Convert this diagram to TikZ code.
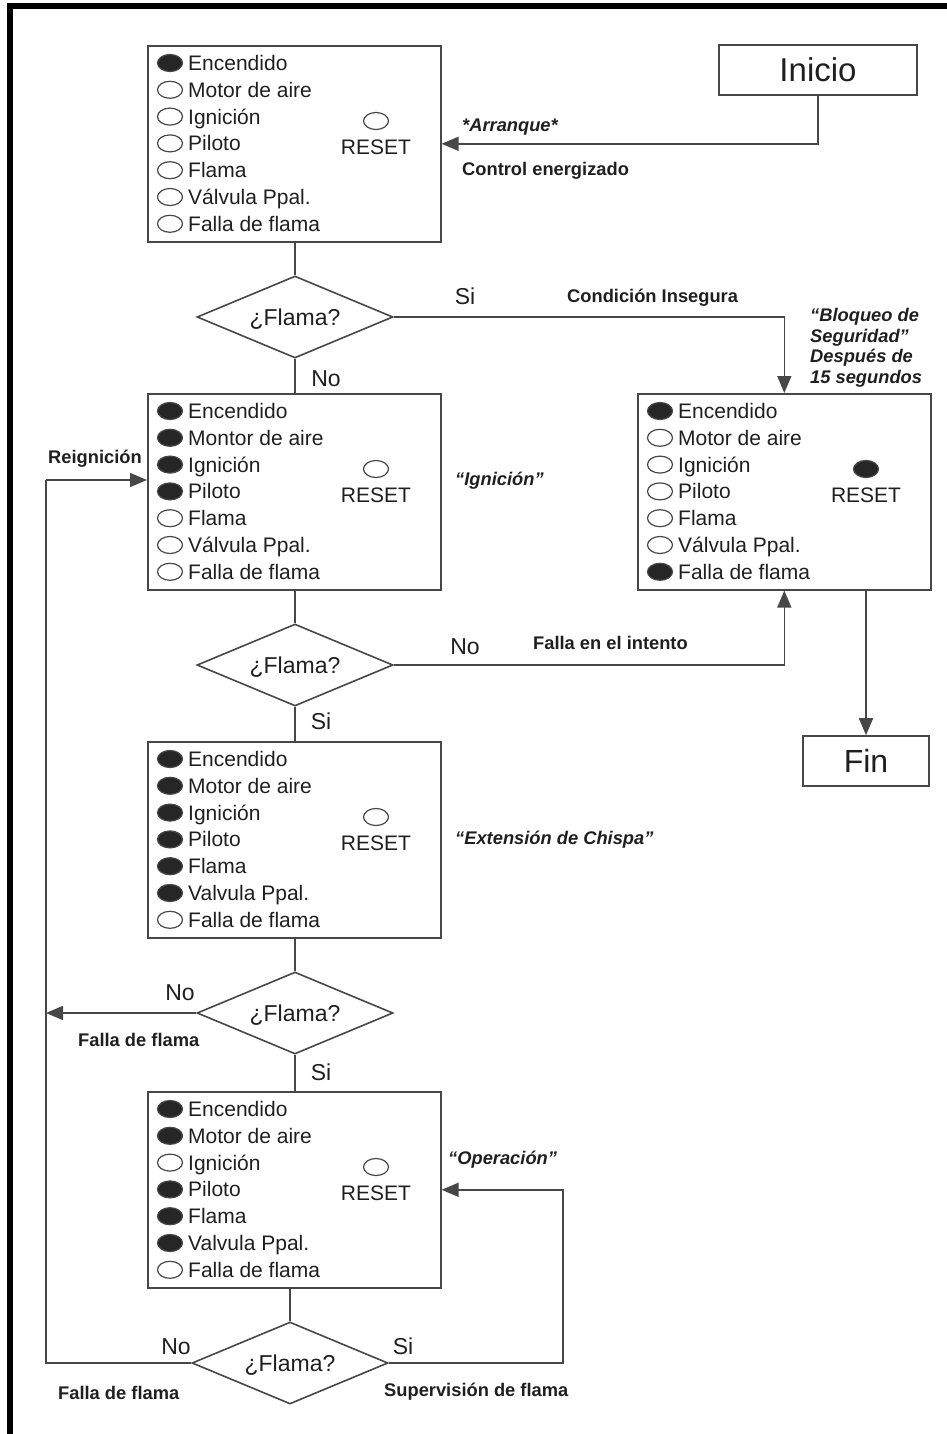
\documentclass[tikz,border=0pt]{standalone}
\usepackage{fontspec}
\setmainfont{Liberation Sans}
\usetikzlibrary{shapes.geometric,arrows.meta}
\colorlet{lampon}{black!85}
\colorlet{lampoff}{white}
\colorlet{ln}{black!72}
\colorlet{tx}{black!88}
\tikzset{
 panel/.style={draw=ln, line width=1.6pt, rectangle, minimum width=293pt, minimum height=196pt, inner sep=0pt, anchor=north west},
 lamp/.style={draw=ln, line width=1.2pt, ellipse, minimum width=25pt, minimum height=17pt, inner sep=0pt},
 rowtxt/.style={font=\fontsize{21}{25}\selectfont, text=tx, anchor=west, inner sep=0pt, text height=15pt, text depth=0pt},
 dia/.style={draw=ln, line width=1.6pt, diamond, aspect=2.4, minimum width=196pt, minimum height=82pt, inner sep=0pt, font=\fontsize{23}{27}\selectfont, text=tx, text height=16.5pt, text depth=0pt},
 yn/.style={font=\fontsize{23}{27}\selectfont, text=tx, inner sep=0pt, text height=16.5pt, text depth=0pt},
 note/.style={font=\fontsize{18.3}{22}\selectfont\bfseries, text=tx, inner sep=0pt, anchor=west, text height=13.1pt, text depth=0pt},
 notei/.style={note, font=\fontsize{18.3}{22}\selectfont\bfseries\itshape},
 term/.style={draw=ln, line width=1.6pt, rectangle, inner sep=0pt, text=tx, text depth=0pt},
 conn/.style={draw=ln, line width=1.6pt},
 arr/.style={conn, -{Triangle[length=17pt,width=14pt]}},
}
\newcommand\panelbox[5]{%
 \node[panel] (#1) at (#2,#3) {};
 \foreach \c/\t [count=\i] in {#5}{
   \node[lamp, fill=\c] (#1-l\i) at ({#2+23},{#3+18+26.8*(\i-1)}) {};
   \node[rowtxt] (#1-t\i) at ({#2+41},{#3+18+26.8*(\i-1)}) {\t};
 }
 \node[lamp, fill=#4] (#1-r) at ({#2+229},{#3+76}) {};
 \node[rowtxt, anchor=center] (#1-rt) at ({#2+229},{#3+102}) {RESET};
}
\begin{document}
\begin{tikzpicture}[x=1pt, y=-1pt]
\useasboundingbox (0,0) rectangle (947,1434);
\fill[black] (7,3) rectangle (947,9);
\fill[black] (7,3) rectangle (13,1434);

\panelbox{b1}{147}{45}{lampoff}{lampon/Encendido, lampoff/Motor de aire, lampoff/Ignición, lampoff/Piloto, lampoff/Flama, lampoff/Válvula Ppal., lampoff/Falla de flama}
\panelbox{b2}{147}{393}{lampoff}{lampon/Encendido, lampon/Montor de aire, lampon/Ignición, lampon/Piloto, lampoff/Flama, lampoff/Válvula Ppal., lampoff/Falla de flama}
\panelbox{b4}{637}{393}{lampon}{lampon/Encendido, lampoff/Motor de aire, lampoff/Ignición, lampoff/Piloto, lampoff/Flama, lampoff/Válvula Ppal., lampon/Falla de flama}
\panelbox{b3}{147}{741}{lampoff}{lampon/Encendido, lampon/Motor de aire, lampon/Ignición, lampon/Piloto, lampon/Flama, lampon/Valvula Ppal., lampoff/Falla de flama}
\panelbox{b5}{147}{1091}{lampoff}{lampon/Encendido, lampon/Motor de aire, lampoff/Ignición, lampon/Piloto, lampon/Flama, lampon/Valvula Ppal., lampoff/Falla de flama}

\node[term, minimum width=198pt, minimum height=50pt, font=\fontsize{33}{38}\selectfont, text height=23.6pt] (ini) at (818,70) {Inicio};
\node[term, minimum width=126pt, minimum height=50pt, font=\fontsize{32}{37}\selectfont, text height=23pt] (fin) at (866,761) {Fin};

\node[dia] (d1) at (295,317) {¿Flama?};
\node[dia] (d2) at (295,665) {¿Flama?};
\node[dia] (d3) at (295,1013) {¿Flama?};
\node[dia] (d4) at (290,1363) {¿Flama?};

% labels
\node[notei] (arranque) at (462,125) {*Arranque*};
\node[note] (control) at (462,169) {Control energizado};
\node[yn] (si1) at (465,296) {Si};
\node[note] (insegura) at (567,296) {Condición Insegura};
\node[font=\fontsize{18.3}{20.7}\selectfont\bfseries\itshape, text=tx, inner sep=0pt, align=left, anchor=north west] (bloqueo) at (810,308) {“Bloqueo de\\Seguridad”\\Después de\\15 segundos};
\node[yn] (no1) at (326,378) {No};
\node[note] (reign) at (48,457) {Reignición};
\node[notei] (ignic) at (455,479) {“Ignición”};
\node[yn] (no2) at (465,646) {No};
\node[note] (intento) at (533,643) {Falla en el intento};
\node[yn] (si2) at (321,721) {Si};
\node[notei] (chispa) at (455,838) {“Extensión de Chispa”};
\node[yn] (no3) at (180,992) {No};
\node[note] (falla3) at (78,1040) {Falla de flama};
\node[yn] (si3) at (321,1072) {Si};
\node[notei] (oper) at (448,1158) {“Operación”};
\node[yn] (no4) at (176,1346) {No};
\node[yn] (si4) at (403,1346) {Si};
\node[note] (falla4) at (58,1393) {Falla de flama};
\node[note] (superv) at (384,1390) {Supervisión de flama};

% connectors
\coordinate (k1) at (46,480);
\coordinate (k2) at (46,1013);
\coordinate (k3) at (46,1363);
\coordinate (k4) at (563,1363);

\draw[arr] (ini.south) |- (b1.east);
\draw[conn] (b1.south -| d1.north) -- (d1.north);
\draw[arr] (d1.east) -| (b4.north);
\draw[conn] (d1.south) -- (d1.south |- b2.north);
\draw[conn] (b2.south -| d2.north) -- (d2.north);
\draw[arr] (d2.east) -| (b4.south);
\draw[arr] (b4.south -| fin.north) -- (fin.north);
\draw[conn] (d2.south) -- (d2.south |- b3.north);
\draw[conn] (b3.south -| d3.north) -- (d3.north);
\draw[arr] (d3.west) -- (k2);
\draw[conn] (d3.south) -- (d3.south |- b5.north);
\draw[conn] (d4.north |- b5.south) -- (d4.north);
\draw[arr] (d4.east) -- (k4) |- (b5.east);
\draw[conn] (d4.west) -- (k3) -- (k1);
\draw[arr] (k1) -- (k1 -| b2.west);
\end{tikzpicture}
\end{document}
